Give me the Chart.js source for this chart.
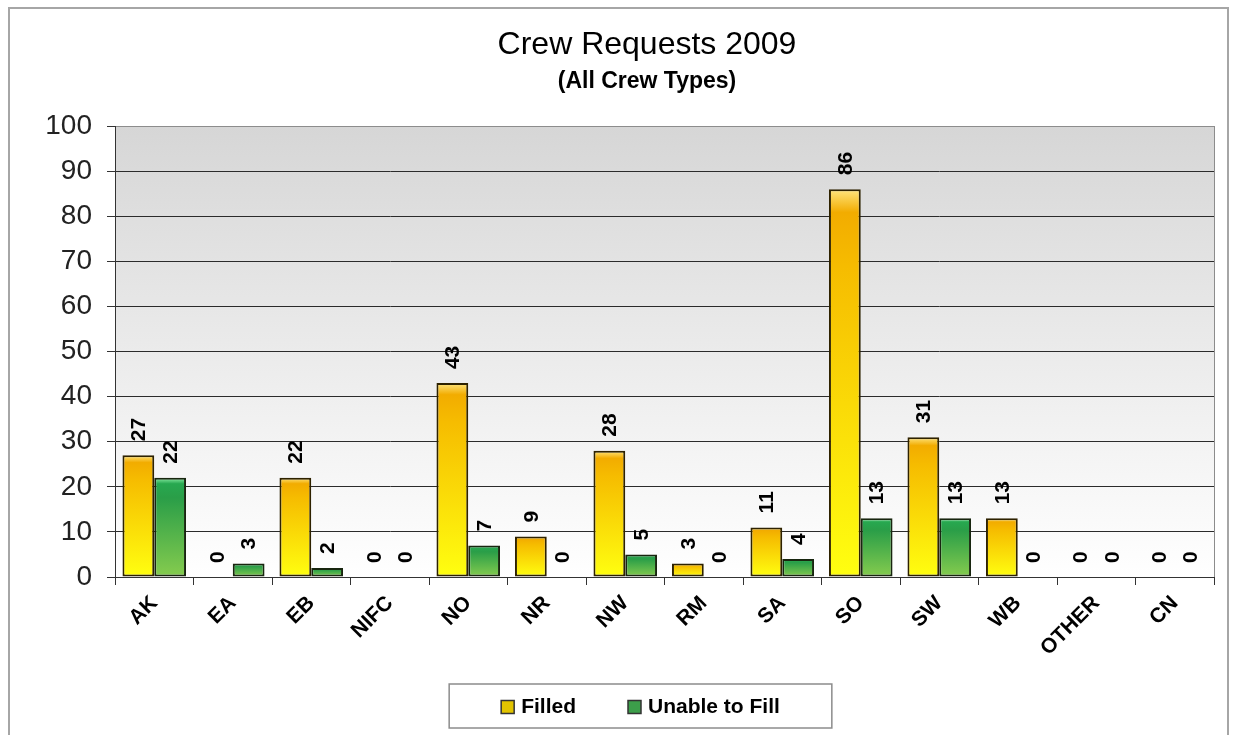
<!DOCTYPE html>
<html>
<head>
<meta charset="utf-8">
<script src="https://cdn.jsdelivr.net/npm/chart.js@4/dist/chart.umd.min.js"></script>
<style>
  html, body { margin: 0; padding: 0; background: #fff; overflow: hidden; }
  #wrap { position: relative; width: 1236px; height: 735px; }
</style>
</head>
<body>
<div id="wrap"><canvas id="myChart"></canvas></div>
<script>
let regions = ['AK','EA','EB','NIFC','NO','NR','NW','RM','SA','SO','SW','WB','OTHER','CN'];
let filled = [27,0,22,0,43,9,28,3,11,86,31,13,0,0];     // Filled
let unable = [22,3,2,0,7,0,5,0,4,13,13,0,0,0];          // Unable to Fill
let yTicks = [0,10,20,30,40,50,60,70,80,90,100];
let legendColors = ['#e2c400', '#3c9e4a'];

const FONT = 'Arial, "Liberation Sans", sans-serif';

// gradient for each bar, built from the scales
function barGradient(colors) {
    return function(c) {
        let chart = c.chart;
        let y = chart.scales.y;
        if (!y || c.raw === undefined) return colors[2];
        let top = y.getPixelForValue(c.raw);
        let bottom = y.getPixelForValue(0);
        if (!isFinite(top) || !isFinite(bottom)) return colors[2];
        if (bottom - top < 2) top = bottom - 2;
        let g = chart.ctx.createLinearGradient(0, top, 0, bottom);
        g.addColorStop(0, colors[0]);
        g.addColorStop(0.06, colors[1]);
        g.addColorStop(0.2, colors[2]);
        g.addColorStop(1, colors[3]);
        return g;
    };
}

// fond de la zone de tracé, cadre et légende
const plotBg = {
    id: 'plotBg',
    afterLayout(chart) {
        // décale le titre et le sous-titre vers la droite
        chart.boxes.forEach(b => {
            if (b.options && b.options.text !== undefined && b.options.position === 'top') b.left += 70;
        });
    },
    beforeDraw(chart) {
        let ctx = chart.ctx;
        let a = chart.chartArea;
        ctx.save();
        ctx.fillStyle = '#fff';
        ctx.fillRect(0, 0, chart.width, chart.height);
        ctx.strokeStyle = '#a6a6a6';
        ctx.lineWidth = 2;
        ctx.strokeRect(9, 8, 1219, 740);
        let g = ctx.createLinearGradient(0, a.top, 0, a.bottom);
        g.addColorStop(0, '#d6d6d6');
        g.addColorStop(0.5, '#ebebeb');
        g.addColorStop(1, '#ffffff');
        ctx.fillStyle = g;
        ctx.fillRect(a.left, a.top, a.right - a.left, a.bottom - a.top);
        ctx.strokeStyle = '#8c8c8c';
        ctx.lineWidth = 1;
        ctx.strokeRect(a.left + 0.5, a.top + 0.5, a.right - a.left, a.bottom - a.top);
        ctx.restore();
    },
    afterDraw(chart) {
        let ctx = chart.ctx;
        let sets = chart.data.datasets;
        ctx.save();
        ctx.font = 'bold 21px ' + FONT;
        let box = 13, gap = 7, space = 52, margin = 52;
        let widths = sets.map(d => ctx.measureText(d.label).width);
        let total = widths.reduce((s, w) => s + box + gap + w, 0) + space * (sets.length - 1);
        let cx = (chart.chartArea.left + chart.chartArea.right) / 2 - 24;
        let top = chart.height - 51, h = 44;
        ctx.strokeStyle = '#8c8c8c';
        ctx.lineWidth = 1.5;
        ctx.strokeRect(cx - total / 2 - margin, top, total + 2 * margin, h);
        let x = cx - total / 2;
        let yc = top + h / 2 + 1;
        ctx.textBaseline = 'middle';
        ctx.textAlign = 'left';
        sets.forEach((d, i) => {
            ctx.fillStyle = legendColors[i];
            ctx.fillRect(x, yc - box / 2, box, box);
            ctx.strokeStyle = '#333';
            ctx.lineWidth = 1.5;
            ctx.strokeRect(x, yc - box / 2, box, box);
            ctx.fillStyle = '#000';
            ctx.fillText(d.label, x + box + gap, yc);
            x += box + gap + widths[i] + space;
        });
        ctx.restore();
    }
};

// étiquettes verticales au-dessus des barres
const valueLabels = {
    id: 'valueLabels',
    afterDatasetsDraw(chart) {
        let ctx = chart.ctx;
        ctx.save();
        ctx.font = 'bold 21px ' + FONT;
        ctx.fillStyle = '#000';
        ctx.textAlign = 'left';
        ctx.textBaseline = 'middle';
        chart.data.datasets.forEach((ds, i) => {
            let meta = chart.getDatasetMeta(i);
            meta.data.forEach((bar, j) => {
                ctx.save();
                ctx.translate(bar.x + 1, bar.y - 14);
                ctx.rotate(-Math.PI / 2);
                ctx.fillText(String(ds.data[j]), 0, 0);
                ctx.restore();
            });
        });
        ctx.restore();
    }
};

let ctx = document.getElementById('myChart').getContext('2d');
let myChart = new Chart(ctx, {
    type: 'bar',
    data: {
        labels: regions,
        datasets: [
            {
                label: 'Filled',
                data: filled,
                backgroundColor: barGradient(['#ffe680', '#f2ac00', '#f6bc00', '#ffff10']),
                borderColor: '#2e2200',
                borderWidth: 2,
                borderSkipped: false,
                categoryPercentage: 0.81,
                barPercentage: 1.0
            },
            {
                label: 'Unable to Fill',
                data: unable,
                backgroundColor: barGradient(['#8ff0a8', '#27a850', '#2a9e48', '#86cc4e']),
                borderColor: '#18260f',
                borderWidth: 2,
                borderSkipped: false,
                categoryPercentage: 0.81,
                barPercentage: 1.0
            }
        ]
    },
    options: {
        responsive: true,
        maintainAspectRatio: false,
        animation: false,
        layout: { padding: { left: 10, right: 22, top: 8, bottom: 51 } },
        scales: {
            x: {
                offset: true,
                grid: {
                    offset: true,
                    drawOnChartArea: false,
                    drawTicks: true,
                    tickLength: 8,
                    color: '#333'
                },
                border: { color: '#333', width: 1 },
                ticks: {
                    maxRotation: 45,
                    minRotation: 45,
                    autoSkip: false,
                    padding: 6,
                    color: '#000',
                    font: { family: FONT, size: 21, weight: 'bold' }
                },
                afterFit(s) { s.height = 107; }
            },
            y: {
                min: 0,
                max: 100,
                afterBuildTicks(s) { s.ticks = yTicks.map(v => ({ value: v })); },
                grid: {
                    color: c => c.tick && c.tick.value === 100 ? '#8c8c8c' : '#2b2b2b',
                    tickLength: 8,
                    tickColor: '#333'
                },
                border: { color: '#333', width: 1 },
                ticks: {
                    padding: 15,
                    color: '#222',
                    font: { family: FONT, size: 28 }
                },
                afterFit(s) { s.width = 105; }
            }
        },
        plugins: {
            title: {
                display: true,
                text: 'Crew Requests 2009',
                color: '#000',
                font: { family: FONT, size: 32, weight: 'normal' },
                padding: { top: 18, bottom: 0 }
            },
            subtitle: {
                display: true,
                text: '(All Crew Types)',
                color: '#000',
                font: { family: FONT, size: 23, weight: 'bold' },
                padding: { top: 3, bottom: 31 }
            },
            legend: { display: false },
            tooltip: { enabled: false }
        }
    },
    plugins: [plotBg, valueLabels]
});
</script>
</body>
</html>
